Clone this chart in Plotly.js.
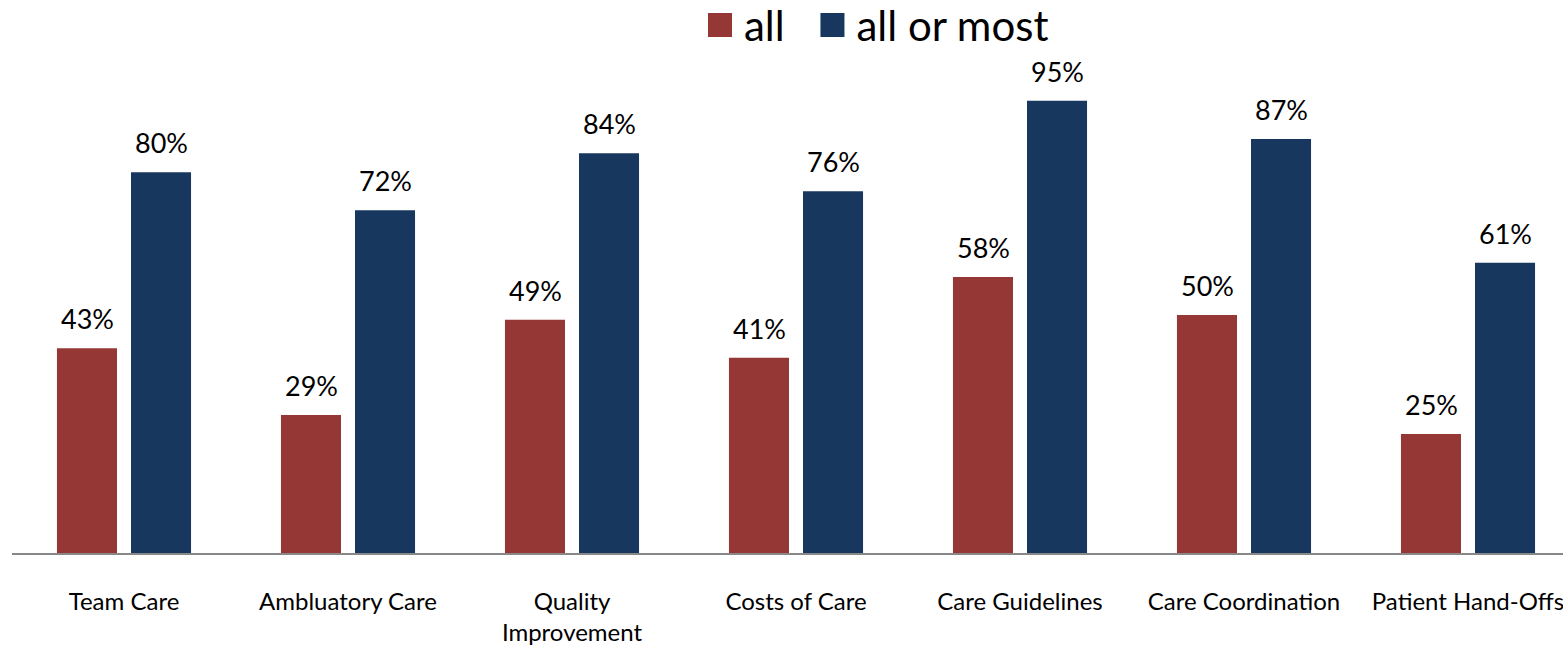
<!DOCTYPE html>
<html>
<head>
<meta charset="utf-8">
<script src="https://cdn.plot.ly/plotly-3.0.1.min.js"></script>
<style>
html,body{margin:0;padding:0;overflow:hidden;background:#fff;width:1563px;height:646px;}
#chart{width:1600px;height:646px;}
</style>
</head>
<body>
<div id="chart"></div>
<script>
var categories = ["Team Care","Ambluatory Care","Quality<br>Improvement","Costs of Care","Care Guidelines","Care Coordination","Patient Hand-Offs"];
var seriesNames = ["all\u00a0\u00a0\u2009","all or most"];
var allValues = [43,29,49,41,58,50,25];
var allOrMostValues = [80,72,84,76,95,87,61];
var colors = ["#953735","#17375E"];

var traces = [
  {type:"bar", name:seriesNames[0], x:categories, y:allValues, marker:{color:colors[0]}, hoverinfo:"skip"},
  {type:"bar", name:seriesNames[1], x:categories, y:allOrMostValues, marker:{color:colors[1]}, hoverinfo:"skip"}
];

var annotations = [];
[allValues, allOrMostValues].forEach(function(vals, s){
  vals.forEach(function(v, i){
    annotations.push({
      x: categories[i], y: v, xref:"x", yref:"y",
      text: v + "%", showarrow:false,
      xanchor:"center", yanchor:"bottom",
      xshift: s === 0 ? -37 : 37, yshift: 11,
      font:{family:"Lato, 'Open Sans', sans-serif", size:27, color:"#000"}
    });
  });
});

var layout = {
  width:1600, height:646,
  margin:{l:12, r:20, t:77, b:93},
  paper_bgcolor:"#fff", plot_bgcolor:"#fff",
  barmode:"group", bargap:0.339, bargroupgap:0.189,
  showlegend:true,
  legend:{orientation:"h", xref:"container", yref:"container", x:0.44, xanchor:"left", y:0.961, yanchor:"middle",
    font:{family:"Lato, 'Open Sans', sans-serif", size:42, color:"#000"}, traceorder:"normal"},
  xaxis:{type:"category", showline:true, linecolor:"#888", linewidth:2, ticks:"", showgrid:false, zeroline:false,
    tickfont:{family:"Lato, 'Open Sans', sans-serif", size:24, color:"#000"}, ticklabelstandoff:26, fixedrange:true},
  yaxis:{range:[0,100], visible:false, showgrid:false, zeroline:false, fixedrange:true},
  annotations:annotations
};

Plotly.newPlot("chart", traces, layout, {displayModeBar:false, staticPlot:true}).then(function(){
  document.querySelectorAll('.legend .legendpoints path').forEach(function(p){
    p.setAttribute('d','M8,12H-16V-12H8Z');
  });
});
</script>
</body>
</html>
